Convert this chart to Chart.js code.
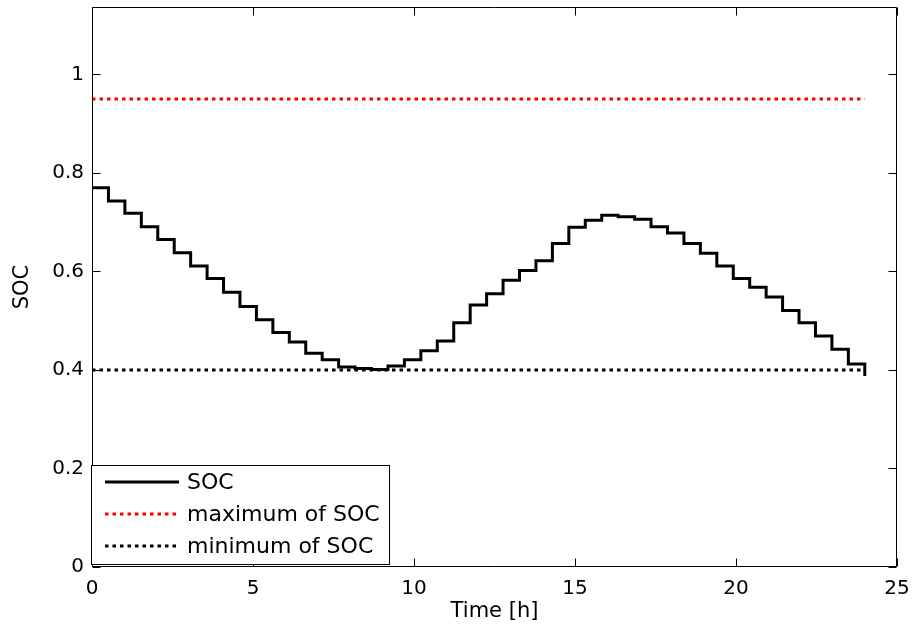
<!DOCTYPE html>
<html>
<head>
<meta charset="utf-8">
<title>SOC over one day</title>
<script src="https://cdn.jsdelivr.net/npm/chart.js@4.4.1/dist/chart.umd.min.js"></script>
<style>
  html, body { margin: 0; padding: 0; background: #fff; }
  canvas { display: block; }
</style>
</head>
<body>
<canvas id="soc-chart" width="912" height="627"></canvas>
<script>
// time of each sample [h] (48 samples spread over 0..24 h)
const timeH = [0, 0.5106, 1.0213, 1.5319, 2.0426, 2.5532, 3.0638, 3.5745, 4.0851, 4.5957,
  5.1064, 5.6170, 6.1277, 6.6383, 7.1489, 7.6596, 8.1702, 8.6809, 9.1915, 9.7021,
  10.2128, 10.7234, 11.2340, 11.7447, 12.2553, 12.7660, 13.2766, 13.7872, 14.2979, 14.8085,
  15.3191, 15.8298, 16.3404, 16.8511, 17.3617, 17.8723, 18.3830, 18.8936, 19.4043, 19.9149,
  20.4255, 20.9362, 21.4468, 21.9574, 22.4681, 22.9787, 23.4894, 24];
// state of charge
const socValues = [0.770, 0.743, 0.718, 0.691, 0.665, 0.638, 0.611, 0.586, 0.558, 0.529,
  0.502, 0.476, 0.457, 0.434, 0.421, 0.406, 0.403, 0.401, 0.408, 0.421,
  0.439, 0.459, 0.496, 0.532, 0.555, 0.582, 0.602, 0.622, 0.657, 0.690,
  0.704, 0.714, 0.711, 0.706, 0.691, 0.678, 0.657, 0.637, 0.611, 0.586,
  0.568, 0.548, 0.521, 0.496, 0.469, 0.442, 0.412, 0.388];
// limits
const limitTimes = [0, 24];
const socMaxValues = [0.95, 0.95];
const socMinValues = [0.4, 0.4];
// axes
const xTicks = [0, 5, 10, 15, 20, 25];
const yTicks = [0, 0.2, 0.4, 0.6, 0.8, 1];
const xMax = 25;
const yMax = 1.137;

const FONT = 'DejaVu Sans';

const toPoints = (xs, ys) => xs.map((x, i) => ({ x: x, y: ys[i] }));

// matlab style box with inward ticks on all four sides
const axesBox = {
  id: 'axesBox',
  afterDatasetsDraw(chart) {
    const { ctx, chartArea: a, scales: { x, y } } = chart;
    const L = Math.round(a.left) + 0.5, R = Math.round(a.right) - 0.5;
    const T = Math.round(a.top) + 0.5, B = Math.round(a.bottom) - 0.5;
    const len = 8;
    ctx.save();
    ctx.strokeStyle = '#000';
    ctx.lineWidth = 1;
    ctx.beginPath();
    ctx.rect(L, T, R - L, B - T);
    xTicks.forEach(v => {
      const px = Math.round(x.getPixelForValue(v)) + 0.5;
      ctx.moveTo(px, B); ctx.lineTo(px, B - len);
      ctx.moveTo(px, T); ctx.lineTo(px, T + len);
    });
    yTicks.forEach(v => {
      const py = Math.round(y.getPixelForValue(v)) + 0.5;
      ctx.moveTo(L, py); ctx.lineTo(L + len, py);
      ctx.moveTo(R, py); ctx.lineTo(R - len, py);
    });
    ctx.stroke();
    ctx.restore();
  }
};

// legend box in the lower left corner
const boxLegend = {
  id: 'boxLegend',
  afterDraw(chart) {
    const ctx = chart.ctx;
    const x0 = 91, y0 = 465, w = 298, h = 99;
    ctx.save();
    ctx.fillStyle = '#fff';
    ctx.fillRect(x0, y0, w, h);
    ctx.strokeStyle = '#000';
    ctx.lineWidth = 1;
    ctx.strokeRect(x0 + 0.5, y0 + 0.5, w, h);
    chart.data.datasets.forEach((ds, i) => {
      const yy = 482 + i * 32;
      ctx.beginPath();
      ctx.setLineDash(ds.borderDash || []);
      ctx.strokeStyle = ds.borderColor;
      ctx.lineWidth = ds.borderWidth;
      ctx.moveTo(105, yy);
      ctx.lineTo(179, yy);
      ctx.stroke();
      ctx.setLineDash([]);
      ctx.fillStyle = '#000';
      ctx.font = '22px "' + FONT + '"';
      ctx.textBaseline = 'middle';
      ctx.textAlign = 'left';
      ctx.fillText(ds.label, 187, yy + 1);
    });
    ctx.restore();
  }
};

new Chart(document.getElementById('soc-chart'), {
  type: 'line',
  data: {
    datasets: [{
      label: 'SOC',
      data: toPoints(timeH, socValues),
      borderColor: '#000000',
      borderWidth: 3,
      stepped: true,
      pointRadius: 0,
      fill: false
    }, {
      label: 'maximum of SOC',
      data: toPoints(limitTimes, socMaxValues),
      borderColor: '#ff0000',
      borderWidth: 3,
      borderDash: [3.5, 4],
      pointRadius: 0,
      fill: false
    }, {
      label: 'minimum of SOC',
      data: toPoints(limitTimes, socMinValues),
      borderColor: '#000000',
      borderWidth: 3,
      borderDash: [3.5, 4],
      pointRadius: 0,
      fill: false
    }]
  },
  options: {
    responsive: false,
    animation: false,
    devicePixelRatio: 1,
    layout: { padding: { top: 7, right: 15, bottom: 0, left: 0 } },
    plugins: {
      legend: { display: false },
      tooltip: { enabled: false }
    },
    scales: {
      x: {
        type: 'linear',
        min: 0,
        max: xMax,
        afterBuildTicks: s => { s.ticks = xTicks.map(v => ({ value: v })); },
        afterFit: s => { s.height = 60; s.paddingLeft = 0; s.paddingRight = 0; },
        grid: { display: false, drawTicks: false },
        border: { display: false },
        ticks: { color: '#000', padding: 10, maxRotation: 0, autoSkip: false,
          font: { family: FONT, size: 20 }, callback: v => String(v) },
        title: { display: true, text: 'Time [h]', color: '#000',
          font: { family: FONT, size: 21 }, padding: { top: 0, bottom: 3 } }
      },
      y: {
        type: 'linear',
        min: 0,
        max: yMax,
        afterBuildTicks: s => { s.ticks = yTicks.map(v => ({ value: v })); },
        afterFit: s => { s.width = 92; s.paddingTop = 0; s.paddingBottom = 0; },
        grid: { display: false, drawTicks: false },
        border: { display: false },
        ticks: { color: '#000', padding: 8, autoSkip: false,
          font: { family: FONT, size: 20 }, callback: v => String(v) },
        title: { display: true, text: 'SOC', color: '#000',
          font: { family: FONT, size: 21 }, padding: { top: 10, bottom: 0 } }
      }
    }
  },
  plugins: [axesBox, boxLegend]
});
</script>
</body>
</html>
